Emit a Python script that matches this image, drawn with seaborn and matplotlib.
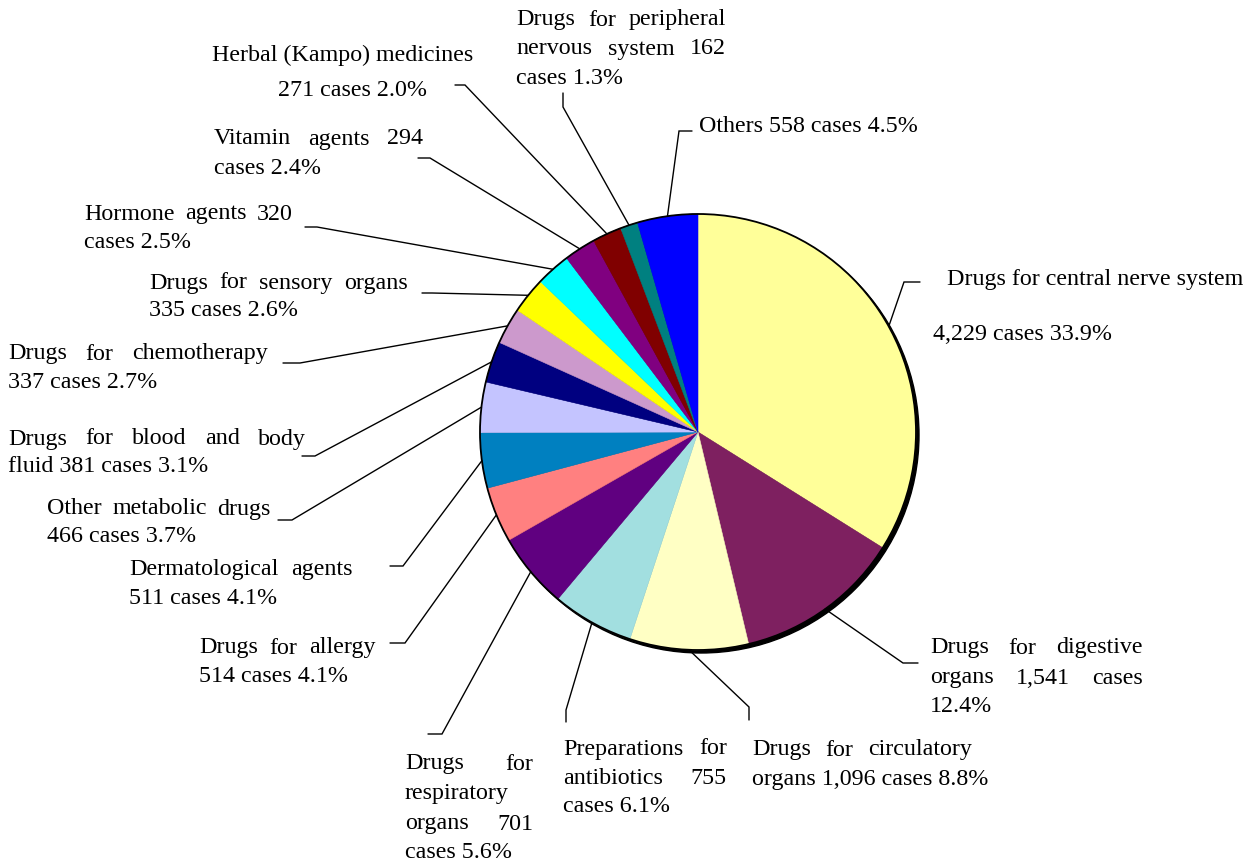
import numpy as np
import matplotlib
matplotlib.use("Agg")
import matplotlib.pyplot as plt
from matplotlib.patches import Circle
import seaborn as sns

# ---- data -------------------------------------------------------------
categories = [
    "Drugs for central nerve system",
    "Drugs for digestive organs",
    "Drugs for circulatory organs",
    "Preparations for antibiotics",
    "Drugs for respiratory organs",
    "Drugs for allergy",
    "Dermatological agents",
    "Other metabolic drugs",
    "Drugs for blood and body fluid",
    "Drugs for chemotherapy",
    "Drugs for sensory organs",
    "Hormone agents",
    "Vitamin agents",
    "Herbal (Kampo) medicines",
    "Drugs for peripheral nervous system",
    "Others",
]
cases = [4229, 1541, 1096, 755, 701, 514, 511, 466, 381, 337, 335, 320, 294, 271, 162, 558]
percent_labels = ["33.9", "12.4", "8.8", "6.1", "5.6", "4.1", "4.1", "3.7", "3.1",
                  "2.7", "2.6", "2.5", "2.4", "2.0", "1.3", "4.5"]
colors = ["#FFFF99", "#7E2060", "#FFFFC4", "#A2DFE0", "#600080", "#FF8080",
          "#0080C0", "#C4C4FF", "#000080", "#CC99CC", "#FFFF00", "#00FFFF",
          "#800080", "#800000", "#008080", "#0000FF"]

# ---- layout (figure pixels, y measured from the top) -------------------
W, H = 1251, 861
CX, CY, R = 698, 432, 218
words_per_line = [[5, 3], [3, 3, 1], [3, 4], [2, 2, 2], [2, 1, 2, 2], [3, 3], [2, 3],
                  [3, 3], [5, 4], [3, 3], [4, 3], [3, 2], [3, 2], [3, 3], [3, 3, 2], [4]]
line_x = [[947, 933], [930] * 3, [752] * 2, [563] * 3, [405] * 4, [199] * 2, [129] * 2,
          [47] * 2, [8] * 2, [8] * 2, [149] * 2, [84] * 2, [214] * 2, [212, 278], [516] * 3, [699]]
line_y = [[277, 332], [646, 676, 704], [748, 777], [747, 776, 805], [762, 792, 822, 850],
          [646, 674], [567, 596], [507, 535], [437, 465], [352, 381], [281, 309],
          [212, 241], [137, 167], [53, 88], [18, 47, 76], [124]]
line_right = [[None, None], [1143, 1143, None], [972, None], [727, 727, None],
              [533, None, 533, None], [376, None], [353, None], [271, None], [306, None],
              [268, None], [408, None], [293, None], [423, None], [None, None],
              [726, 726, None], [None]]
# leader line: elbow point and end point next to the text
leader_elbow = [(904, 282), (903, 663), (749, 707), (566, 710), (442, 734), (405, 643),
                (403, 566), (292, 520), (315, 456), (300, 363), (432, 293), (317, 227),
                (430, 158), (465, 85), (563, 107), (679, 131)]
leader_end = [(920, 282), (918, 663), (749, 720), (566, 722), (428, 734), (390, 643),
              (390, 566), (278, 520), (302, 456), (283, 363), (422, 293), (305, 227),
              (418, 158), (455, 85), (563, 93), (692, 131)]

# ---- style ------------------------------------------------------------
sns.set_theme(style="white")
plt.rcParams["font.family"] = ["Liberation Serif", "DejaVu Serif"]
FS = 17.3

fig = plt.figure(figsize=(W / 100, H / 100), dpi=100)
ax = fig.add_axes([0, 0, 1, 1])


def Y(p):
    return H - p


# drop shadow, pie, outline
ax.add_patch(Circle((CX + 3, Y(CY) - 3), R, color="black", zorder=1))
wedges, _ = ax.pie(cases, colors=colors, startangle=90, counterclock=False,
                   center=(CX, Y(CY)), radius=R,
                   wedgeprops=dict(linewidth=0.4, zorder=2))
for w in wedges:
    w.set_edgecolor(w.get_facecolor())
ax.add_patch(Circle((CX, Y(CY)), R, fill=False, ec="black", lw=1.3, zorder=3))

ax.set_xlim(0, W)
ax.set_ylim(0, H)
ax.set_aspect("equal")
ax.axis("off")

# leader lines from the middle of each wedge's arc
frac = np.array(cases, dtype=float) / np.sum(cases)
mid = np.cumsum(frac) - frac / 2
for m, (ex, ey), (tx, ty) in zip(mid, leader_elbow, leader_end):
    th = 2 * np.pi * m
    px, py = CX + R * np.sin(th), CY - R * np.cos(th)
    ax.plot([px, ex, tx], [Y(py), Y(ey), Y(ty)], color="black", lw=1.0,
            solid_joinstyle="miter", zorder=4)

# labels, justified line by line
renderer = fig.canvas.get_renderer()
BASE = 7.5  # offset from line centre to baseline
for name, n, pct, wpl, xs, ys, rs in zip(categories, cases, percent_labels,
                                         words_per_line, line_x, line_y, line_right):
    words = f"{name} {n:,} cases {pct}%".split()
    i = 0
    for k, cnt in enumerate(wpl):
        lw = words[i:i + cnt]
        i += cnt
        x0, yb, x1 = xs[k], Y(ys[k] + BASE), rs[k]
        if x1 is None or len(lw) == 1:
            ax.text(x0, yb, " ".join(lw), fontsize=FS, ha="left", va="baseline",
                    color="black")
            continue
        texts = [ax.text(0, yb, w, fontsize=FS, ha="left", va="baseline", color="black")
                 for w in lw]
        widths = [t.get_window_extent(renderer).width for t in texts]
        gap = (x1 - x0 - sum(widths)) / (len(lw) - 1)
        x = x0
        for t, wd in zip(texts, widths):
            t.set_x(x)
            x += wd + gap

fig.savefig("out.png", dpi=100, facecolor="white")
